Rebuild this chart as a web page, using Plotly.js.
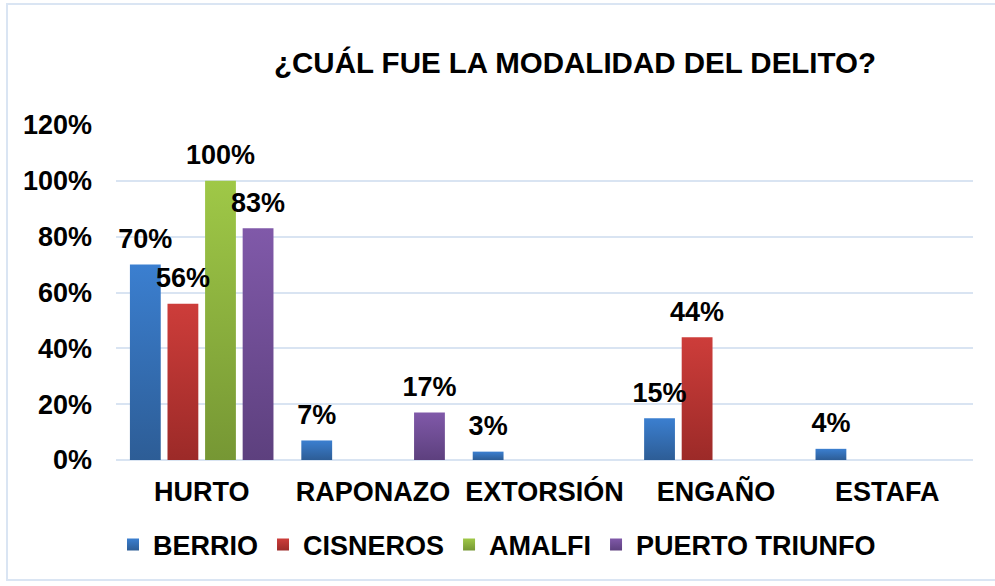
<!DOCTYPE html>
<html>
<head>
<meta charset="utf-8">
<script src="https://cdn.plot.ly/plotly-3.0.1.min.js"></script>
<style>
  html, body { margin: 0; padding: 0; background: #fff; }
  #wrap { position: relative; width: 995px; height: 586px; }
  #chart { position: absolute; left: 0; top: 0; width: 995px; height: 586px; }
  #frame { position: absolute; left: 6px; top: 3px; width: 1000px; height: 578px;
           border: 2px solid #dae5f3; pointer-events: none; box-sizing: border-box; }
</style>
</head>
<body>
<div id="wrap">
  <div id="chart"></div>
  <div id="frame"></div>
</div>
<script>
// ---- data ----
const categories = ['HURTO', 'RAPONAZO', 'EXTORSIÓN', 'ENGAÑO', 'ESTAFA'];
const seriesNames = ['BERRIO', 'CISNEROS', 'AMALFI', 'PUERTO TRIUNFO'];
const berrio   = [70, 7, 3, 15, 4];
const cisneros = [56, 0, 0, 44, 0];
const amalfi   = [100, 0, 0, 0, 0];
const puerto   = [83, 17, 0, 0, 0];
const yTicks   = [0, 20, 40, 60, 80, 100, 120];

// ---- styles ----
const seriesValues = [berrio, cisneros, amalfi, puerto];
const midColors = ['#3570b8', '#b5342f', '#8bb03f', '#6e4e93'];
const topColors = ['#3b7fd0', '#cd3d3a', '#9fc847', '#8059a9'];
const botColors = ['#2d5d96', '#9c2a28', '#769734', '#5d407e'];
const FONT = 'Liberation Sans, Arial, sans-serif';
const FS = 27;

const traces = [];
seriesValues.forEach((vals, i) => {
  traces.push({
    type: 'bar',
    name: seriesNames[i],
    x: categories,
    y: vals,
    marker: { color: midColors[i] },
    hoverinfo: 'skip'
  });
});
seriesValues.forEach((vals, i) => {
  traces.push({
    type: 'scatter',
    mode: 'markers+text',
    x: categories,
    y: vals,
    text: vals.map(v => v > 0 ? v + '%' : ''),
    textposition: 'top center',
    textfont: { family: FONT, size: FS, color: '#000', weight: 'bold' },
    marker: { size: 14, color: 'rgba(0,0,0,0)', opacity: 0 },
    cliponaxis: false,
    showlegend: false,
    hoverinfo: 'skip'
  });
});

const layout = {
  width: 995, height: 586,
  margin: { l: 116, r: 22, t: 125, b: 126 },
  paper_bgcolor: '#fff', plot_bgcolor: '#fff',
  font: { family: FONT, size: FS, color: '#000', weight: 'bold' },
  title: {
    text: '¿CUÁL FUE LA MODALIDAD DEL DELITO?',
    font: { family: FONT, size: 29.5, color: '#000', weight: 'bold' },
    xref: 'container', x: 575 / 995, xanchor: 'center',
    yref: 'container', y: 1 - 63 / 586, yanchor: 'middle'
  },
  barmode: 'group',
  bargap: 0.123,
  bargroupgap: 0.18,
  scattermode: 'group',
  scattergap: 0.123,
  showlegend: true,
  legend: {
    orientation: 'h',
    xref: 'container', x: 497 / 995, xanchor: 'center',
    yref: 'container', y: 1 - 545 / 586, yanchor: 'middle',
    font: { family: FONT, size: FS, color: '#000', weight: 'bold' },
    traceorder: 'normal'
  },
  xaxis: {
    type: 'category',
    showgrid: false, showline: false, zeroline: false, ticks: '',
    ticklabelstandoff: 13,
    tickfont: { family: FONT, size: FS, color: '#000', weight: 'bold' }
  },
  yaxis: {
    range: [0, 120],
    tickvals: yTicks,
    ticktext: yTicks.map(v => v + '%'),
    showgrid: true, gridcolor: '#d9e4f2', gridwidth: 2,
    zeroline: true, zerolinecolor: '#d9e4f2', zerolinewidth: 2,
    showline: false, ticks: '',
    ticklabelstandoff: 23,
    tickfont: { family: FONT, size: FS, color: '#000', weight: 'bold' }
  }
};

Plotly.newPlot('chart', traces, layout, { displayModeBar: false, staticPlot: true }).then(gd => {
  // vertical gradient fills on the bars and legend swatches
  const svg = gd.querySelector('.main-svg');
  const NS = 'http://www.w3.org/2000/svg';
  let defs = svg.querySelector('defs');
  if (!defs) { defs = document.createElementNS(NS, 'defs'); svg.prepend(defs); }
  topColors.forEach((c, i) => {
    const g = document.createElementNS(NS, 'linearGradient');
    g.setAttribute('id', 'barGrad' + i);
    g.setAttribute('x1', '0'); g.setAttribute('y1', '0');
    g.setAttribute('x2', '0'); g.setAttribute('y2', '1');
    const s1 = document.createElementNS(NS, 'stop');
    s1.setAttribute('offset', '0'); s1.setAttribute('stop-color', c);
    const s2 = document.createElementNS(NS, 'stop');
    s2.setAttribute('offset', '1'); s2.setAttribute('stop-color', botColors[i]);
    g.appendChild(s1); g.appendChild(s2);
    defs.appendChild(g);
  });
  gd.querySelectorAll('.barlayer .trace').forEach((t, i) => {
    t.querySelectorAll('path').forEach(p => { p.style.fill = 'url(#barGrad' + i + ')'; });
  });
  gd.querySelectorAll('.legend .traces').forEach((t, i) => {
    t.querySelectorAll('.legendpoints path').forEach(p => { p.style.fill = 'url(#barGrad' + i + ')'; });
  });
});
</script>
</body>
</html>
